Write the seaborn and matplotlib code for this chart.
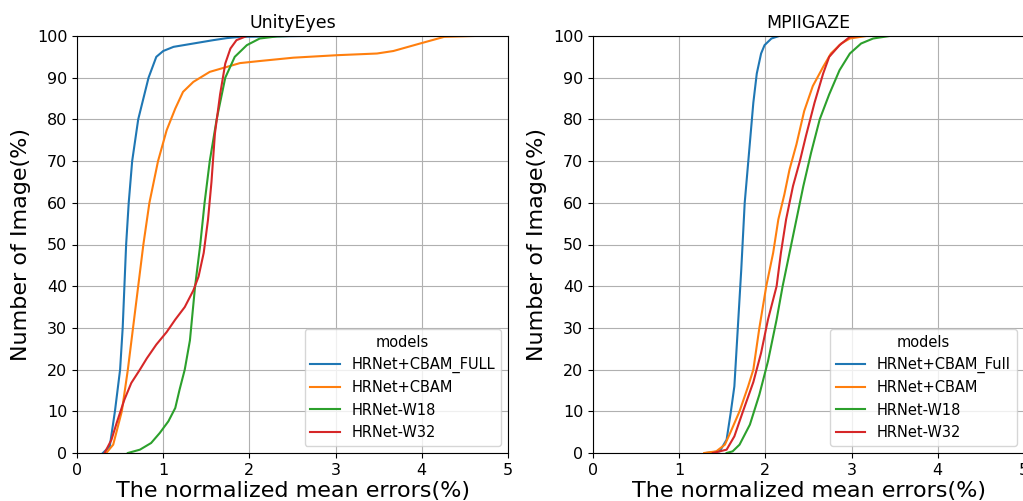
import matplotlib
matplotlib.use("Agg")
import matplotlib.pyplot as plt
import pandas as pd
import seaborn as sns

# UnityEyes curves: (error, percent) pairs
unity_full_x = [0.30, 0.38, 0.44, 0.50, 0.53, 0.55, 0.57, 0.60, 0.64, 0.71, 0.83, 0.92, 1.00, 1.12, 1.35, 1.58, 1.74, 1.89, 2.65]
unity_full_y = [0, 1.6, 10, 20, 30, 40, 50, 60, 70, 80, 90, 95, 96.4, 97.4, 98.2, 99, 99.5, 99.8, 100]
unity_cbam_x = [0.34, 0.42, 0.52, 0.59, 0.65, 0.71, 0.77, 0.84, 0.94, 1.04, 1.14, 1.23, 1.35, 1.54, 1.74, 1.89, 2.12, 2.51, 3.02, 3.48, 3.67, 3.98, 4.26, 4.60]
unity_cbam_y = [0, 2, 10, 20, 30, 40, 50, 60, 70, 77.4, 82.6, 86.6, 89, 91.4, 92.6, 93.5, 94, 94.8, 95.4, 95.8, 96.4, 98.2, 99.8, 100]
unity_w18_x = [0.59, 0.73, 0.86, 0.96, 1.06, 1.14, 1.19, 1.25, 1.31, 1.37, 1.43, 1.48, 1.54, 1.62, 1.72, 1.83, 1.97, 2.12, 2.32, 2.45]
unity_w18_y = [0, 0.8, 2.4, 4.8, 7.6, 10.8, 15.2, 20, 27, 40, 50, 60, 70, 80, 90, 95, 97.8, 99.4, 99.9, 100]
unity_w32_x = [0.32, 0.40, 0.46, 0.55, 0.63, 0.73, 0.81, 0.92, 1.04, 1.14, 1.25, 1.35, 1.41, 1.47, 1.52, 1.56, 1.60, 1.66, 1.72, 1.78, 1.85, 1.97]
unity_w32_y = [0, 3.2, 7.2, 12.8, 16.8, 20, 22.7, 26, 29, 32, 35, 39, 42.3, 48, 56, 65, 76.6, 86, 93.4, 97, 99, 100]

# MPIIGAZE curves
mpii_full_x = [1.31, 1.47, 1.55, 1.60, 1.64, 1.68, 1.72, 1.76, 1.81, 1.86, 1.90, 1.95, 1.99, 2.07, 2.16]
mpii_full_y = [0, 0.4, 3.2, 10, 16, 30, 44, 60, 72, 84, 91, 95.8, 97.8, 99.4, 100]
mpii_cbam_x = [1.29, 1.43, 1.53, 1.60, 1.70, 1.80, 1.86, 1.93, 2.01, 2.09, 2.15, 2.22, 2.28, 2.36, 2.45, 2.55, 2.67, 2.76, 2.88, 2.98, 3.17]
mpii_cbam_y = [0, 0.4, 2, 5.2, 10, 16, 20, 30, 40, 48, 56, 62, 68, 74, 82, 88, 92.6, 95.8, 98.2, 99.4, 100]
mpii_w18_x = [1.55, 1.62, 1.70, 1.82, 1.93, 2.03, 2.13, 2.20, 2.28, 2.36, 2.44, 2.53, 2.63, 2.74, 2.86, 2.98, 3.11, 3.25, 3.44]
mpii_w18_y = [0, 0.4, 2, 6.8, 14, 22, 32, 40, 48, 56, 64, 72, 80, 86, 91.8, 95.8, 98.2, 99.4, 100]
mpii_w32_x = [1.39, 1.55, 1.64, 1.74, 1.86, 1.95, 2.03, 2.13, 2.18, 2.24, 2.32, 2.40, 2.47, 2.57, 2.67, 2.74, 2.86, 2.98, 3.09]
mpii_w32_y = [0, 0.8, 4, 10, 17, 24, 32, 40, 48, 56, 64, 70, 76, 84, 91, 95, 97.8, 99.8, 100]

unity_models = ["HRNet+CBAM_FULL", "HRNet+CBAM", "HRNet-W18", "HRNet-W32"]
mpii_models = ["HRNet+CBAM_Full", "HRNet+CBAM", "HRNet-W18", "HRNet-W32"]
colors = ["#1f77b4", "#ff7f0e", "#2ca02c", "#d62728"]


def build_frame(names, curves):
    rows = []
    for name, (xs, ys) in zip(names, curves):
        for x, y in zip(xs, ys):
            rows.append({"models": name, "error": x, "percent": y})
    return pd.DataFrame(rows)


def draw_panel(ax, df, names, title):
    sns.lineplot(data=df, x="error", y="percent", hue="models", hue_order=names,
                 palette=colors, estimator=None, sort=False, linewidth=1.5, ax=ax)
    ax.set_xlim(0, 5)
    ax.set_ylim(0, 100)
    ax.set_xticks(range(0, 6))
    ax.set_yticks(range(0, 101, 10))
    ax.tick_params(labelsize=11.5)
    ax.grid(True, color="#b0b0b0", linewidth=0.8)
    ax.set_title(title, fontsize=12.5)
    ax.set_xlabel("The normalized mean errors(%)", fontsize=16, labelpad=2)
    ax.set_ylabel("Number of Image(%)", fontsize=16)
    ax.legend(title="models", loc="lower right", fontsize=10.5, title_fontsize=10.5)


fig = plt.figure(figsize=(10.23, 5.01), dpi=100)
ax1 = fig.add_axes([77 / 1023, 48 / 501, 431 / 1023, 417 / 501])
ax2 = fig.add_axes([593 / 1023, 48 / 501, 431 / 1023, 417 / 501])

unity_df = build_frame(unity_models, [(unity_full_x, unity_full_y), (unity_cbam_x, unity_cbam_y),
                                      (unity_w18_x, unity_w18_y), (unity_w32_x, unity_w32_y)])
mpii_df = build_frame(mpii_models, [(mpii_full_x, mpii_full_y), (mpii_cbam_x, mpii_cbam_y),
                                    (mpii_w18_x, mpii_w18_y), (mpii_w32_x, mpii_w32_y)])

draw_panel(ax1, unity_df, unity_models, "UnityEyes")
draw_panel(ax2, mpii_df, mpii_models, "MPIIGAZE")

fig.savefig("out.png", dpi=100)
